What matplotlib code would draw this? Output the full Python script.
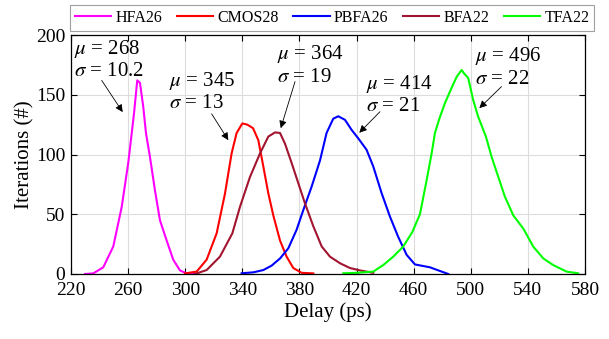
import matplotlib
matplotlib.use("Agg")
import matplotlib.pyplot as plt

plt.rcParams['font.family'] = ['Liberation Serif', 'DejaVu Serif']
plt.rcParams['mathtext.fontset'] = 'stix'

# ---- data ----
hfa26_x = [229.8, 235.6, 242.6, 249.6, 255.5, 260.1, 264.1, 266.4, 268.3, 270.6, 272.5, 275.3, 278.8, 282.3, 287.0, 291.6, 296.3, 301.0, 309.0]
hfa26_y = [0, 0.5, 5.6, 23, 56, 93, 134, 162, 160, 140, 118, 98, 70, 45, 28, 12, 3, 0.5, 0]

cmos28_x = [299.8, 308.0, 315.0, 322.0, 327.8, 332.5, 336.0, 340.0, 343.5, 347.5, 351.2, 354.7, 358.2, 361.7, 366.4, 371.0, 375.7, 381.5, 389.7]
cmos28_y = [0.5, 2, 12, 34, 67, 101, 118, 126, 125, 122, 112, 90, 67.5, 49, 28, 14.5, 5, 1, 0.5]

pbfa26_x = [339.5, 347.7, 354.7, 360.5, 366.4, 372.2, 378.0, 382.7, 388.5, 394.4, 399.0, 403.7, 407.2, 411.9, 416.6, 421.2, 427.0, 431.7, 437.6, 443.4, 449.2, 455.1, 460.9, 471.4, 484.2]
pbfa26_y = [0.6, 1.4, 3.3, 7, 13, 21.5, 37, 53.5, 73, 95, 118, 130, 132, 129, 120.5, 113.5, 104, 90, 67.5, 48, 31, 16, 8, 5.6, 0]

bfa22_x = [306.8, 315.0, 324.3, 333.0, 338.3, 345.3, 352.4, 358.2, 362.9, 366.4, 369.9, 374.5, 379.2, 383.9, 389.7, 395.6, 401.4, 408.4, 415.4, 422.4, 431.7]
bfa22_y = [0, 3.3, 14.5, 34, 56, 81, 101, 115, 118.5, 118, 109, 93, 76, 59, 40, 23, 14.5, 9, 5, 3, 1]

tfa22_x = [410.7, 420.0, 431.7, 438.7, 445.7, 452.7, 459.0, 464.4, 469.0, 472.6, 474.9, 478.0, 481.9, 485.9, 490.1, 493.6, 495.2, 498.2, 501.7, 505.2, 510.6, 514.6, 518.5, 523.9, 529.8, 536.8, 543.7, 550.8, 557.7, 567.1, 575.2]
tfa22_y = [0.6, 1, 2, 7.5, 14.5, 23, 35, 50, 78, 101, 118, 130, 143, 154, 165, 170.7, 168, 164, 145.6, 131.6, 115, 98, 84, 64.7, 49, 38, 23, 13, 7.5, 2, 0.6]

series_names = ['HFA26', 'CMOS28', 'PBFA26', 'BFA22', 'TFA22']
series_colors = ['#FF00FF', '#FF0000', '#0000FF', '#A2142F', '#00FF00']

mus = [268, 345, 364, 414, 496]
sigmas = ['10.2', '13', '19', '21', '22']
text_pos = [(222.1, 179.5), (288.6, 152.7), (364.0, 174.9), (426.6, 150.0), (502.9, 173.2)]
arrow_tail = [(241.5, 162.0), (318.5, 134.0), (376.9, 161.0), (436.4, 135.8), (521.5, 156.8)]
arrow_head = [(256.2, 135.5), (330.2, 112.0), (366.9, 122.0), (421.9, 118.2), (506.0, 138.8)]

x_ticks = [220, 260, 300, 340, 380, 420, 460, 500, 540, 580]
y_ticks = [0, 50, 100, 150, 200]

fig = plt.figure(figsize=(6.09, 3.39), dpi=100)
ax = fig.add_axes([71/609, 65/339, 514/609, 239/339])

xs = [hfa26_x, cmos28_x, pbfa26_x, bfa22_x, tfa22_x]
ys = [hfa26_y, cmos28_y, pbfa26_y, bfa22_y, tfa22_y]
for x, y, n, c in zip(xs, ys, series_names, series_colors):
    ax.plot(x, y, color=c, lw=1.5, label=n)

ax.set_xlim(220, 580)
ax.set_ylim(0, 200)
ax.set_xticks(x_ticks)
ax.set_yticks(y_ticks)
ax.grid(True, color='#DCDCDC', lw=0.8)
ax.set_axisbelow(True)
ax.tick_params(direction='in', top=True, right=True, labelsize=14, length=4, width=0.8)
ax.tick_params(axis='x', pad=6)
ax.tick_params(axis='y', pad=4)
for s in ax.spines.values():
    s.set_linewidth(0.9)
ax.set_xlabel('Delay (ps)', fontsize=15, labelpad=2)
ax.set_ylabel('Iterations (#)', fontsize=15, labelpad=1)

for mu, sg, tp, at, ah in zip(mus, sigmas, text_pos, arrow_tail, arrow_head):
    ax.text(tp[0], tp[1], '$\\mu$ = %d\n$\\sigma$ = %s' % (mu, sg), fontsize=15,
            ha='left', va='center', linespacing=1.15)
    ax.annotate('', xy=ah, xytext=at,
                arrowprops=dict(arrowstyle='-|>', color='black', lw=0.6,
                                mutation_scale=11, shrinkA=0, shrinkB=0))

leg = fig.legend(loc='upper center', bbox_to_anchor=(332/609, 1 - 5/339), ncol=5,
                 fontsize=11.5, frameon=True, fancybox=False, edgecolor='#888888',
                 handlelength=2.3, handletextpad=0.25, columnspacing=0.9,
                 borderpad=0.3, borderaxespad=0)
leg.get_frame().set_linewidth(0.8)

fig.savefig('out.png', dpi=100)
